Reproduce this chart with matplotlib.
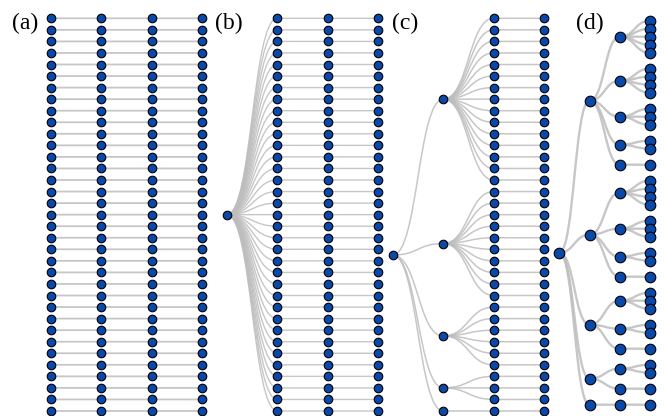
import matplotlib
matplotlib.use("Agg")

import matplotlib.pyplot as plt
from matplotlib.path import Path
from matplotlib.patches import PathPatch

# tree shapes for the four panels
n_rows = 35
c_groups = [15, 10, 6, 3, 1]
d_groups = [[5, 4, 3, 2, 1], [4, 3, 2, 1], [3, 2, 1], [2, 1], [1]]
panel_labels = ["(a)", "(b)", "(c)", "(d)"]


def chain(k):
    return [chain(k - 1)] if k > 0 else []


trees = [
    [chain(3) for _ in range(n_rows)],                       # (a) forest of chains
    [[chain(2) for _ in range(n_rows)]],                     # (b) one hub
    [[[chain(1) for _ in range(n)] for n in c_groups]],      # (c) two levels
    [[[[[] for _ in range(k)] for k in grp] for grp in d_groups]],  # (d) three levels
]

# layout: x of depth 0, level step, y of first leaf, leaf gaps (same parent / other)
layouts = [
    dict(x0=51.0, dx=50.3, y0=18.3, s_same=11.55, s_diff=11.55, size=38, lw=1.3),
    dict(x0=227.0, dx=50.4, y0=18.3, s_same=11.55, s_diff=11.55, size=38, lw=1.0),
    dict(x0=392.7, dx=50.5, y0=18.3, s_same=11.55, s_diff=11.55, size=38, lw=1.1),
    dict(x0=559.3, dx=30.2, y0=20.7, s_same=8.0, s_diff=16.0, size=58, lw=1.7),
]
label_x = [12, 215, 392, 576]


def layout_tree(roots, x0, dx, y0, s_same, s_diff, **_):
    nodes, edges = [], []
    state = {"y": None, "parent": None, "next_id": 0}

    def place(node, depth, parent_id):
        my_id = state["next_id"]
        state["next_id"] += 1
        x = x0 + depth * dx
        if not node:
            if state["y"] is None:
                y = y0
            else:
                y = state["y"] + (s_same if state["parent"] == parent_id else s_diff)
            state["y"], state["parent"] = y, parent_id
        else:
            kids = [place(c, depth + 1, my_id) for c in node]
            y = (kids[0][1] + kids[-1][1]) / 2
            for kx, ky in kids:
                edges.append((x, y, kx, ky))
        nodes.append((x, y))
        return x, y

    for r in roots:
        place(r, 0, -1)
    return nodes, edges


fig = plt.figure(figsize=(6.72, 4.16), dpi=100)
ax = fig.add_axes([0, 0, 1, 1])
ax.set_xlim(0, 672)
ax.set_ylim(416, 0)
ax.axis("off")

for tree, lay, lab, lx in zip(trees, layouts, panel_labels, label_x):
    nodes, edges = layout_tree(tree, **lay)
    for x1, y1, x2, y2 in edges:
        xm = (x1 + x2) / 2
        path = Path([(x1, y1), (xm, y1), (xm, y2), (x2, y2)],
                    [Path.MOVETO, Path.CURVE4, Path.CURVE4, Path.CURVE4])
        ax.add_patch(PathPatch(path, fc="none", ec="#bdbdbd", lw=lay["lw"],
                               alpha=0.85, zorder=1))
    xs = [n[0] for n in nodes]
    ys = [n[1] for n in nodes]
    ax.scatter(xs, ys, s=lay["size"], c="#0a48aa", edgecolors="black",
               linewidths=0.8, zorder=3)
    ax.text(lx, 23, lab, fontsize=17, family="Liberation Serif",
            ha="left", va="center", zorder=4)

fig.savefig("out.png", dpi=100)
